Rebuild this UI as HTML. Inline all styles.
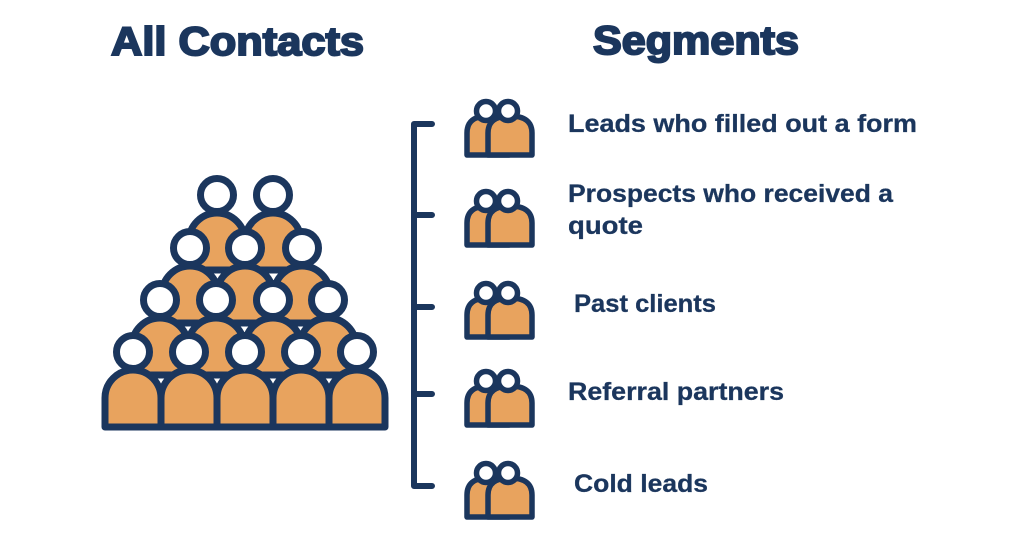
<!DOCTYPE html>
<html><head><meta charset="utf-8"><style>
html,body{margin:0;padding:0;background:#fff;}
svg{display:block;}
text{font-family:"Liberation Sans",sans-serif;fill:#1b365d;font-weight:bold;}
</style></head><body>
<svg width="1024" height="535" viewBox="0 0 1024 535" xmlns="http://www.w3.org/2000/svg">
<defs>
<g id="p">
<path d="M-28,75 L-28,46 A28,28 0 0 1 28,46 L28,75 Z" fill="#e8a35e" stroke="#1b365d" stroke-width="7" stroke-linejoin="round"/>
<circle cx="0" cy="0" r="16.5" fill="#fff" stroke="#1b365d" stroke-width="7"/>
</g>
<g id="s">
<path d="M-32,30 L-32,8 Q-32,-9 -11,-9 Q10,-9 10,8 L10,30 Z" fill="#e8a35e" stroke="#1b365d" stroke-width="5.5" stroke-linejoin="round"/>
<circle cx="-13" cy="-14" r="9.5" fill="#fff" stroke="#1b365d" stroke-width="5.5"/>
<path d="M-11,30 L-11,8 Q-11,-9 11,-9 Q33,-9 33,8 L33,30 Z" fill="#e8a35e" stroke="#1b365d" stroke-width="5.5" stroke-linejoin="round"/>
<circle cx="9" cy="-14" r="9.5" fill="#fff" stroke="#1b365d" stroke-width="5.5"/>
</g>
</defs>
<text x="111" y="55" font-size="40" stroke="#1b365d" stroke-width="2" textLength="253" lengthAdjust="spacingAndGlyphs">All Contacts</text>
<text x="593" y="54" font-size="40" stroke="#1b365d" stroke-width="2" textLength="206" lengthAdjust="spacingAndGlyphs">Segments</text>

<use href="#p" x="217" y="195"/><use href="#p" x="273" y="195"/>
<use href="#p" x="190" y="248"/><use href="#p" x="245" y="248"/><use href="#p" x="302" y="248"/>
<use href="#p" x="160" y="300"/><use href="#p" x="216" y="300"/><use href="#p" x="273" y="300"/><use href="#p" x="328" y="300"/>
<use href="#p" x="133" y="352"/><use href="#p" x="189" y="352"/><use href="#p" x="245" y="352"/><use href="#p" x="301" y="352"/><use href="#p" x="357" y="352"/>

<path d="M432,124 L414,124 L414,486 L432,486 M414,215 L432,215 M414,307 L432,307 M414,394 L432,394" fill="none" stroke="#1b365d" stroke-width="6" stroke-linecap="round" stroke-linejoin="round"/>

<use href="#s" x="499" y="125"/>
<use href="#s" x="499" y="215"/>
<use href="#s" x="499" y="307"/>
<use href="#s" x="499" y="395"/>
<use href="#s" x="499" y="487"/>

<g stroke="#1b365d" stroke-width="0.3">
<text x="568" y="132" font-size="25" textLength="349" lengthAdjust="spacingAndGlyphs">Leads who filled out a form</text>
<text x="568" y="202" font-size="25" textLength="325" lengthAdjust="spacingAndGlyphs">Prospects who received a</text>
<text x="568" y="234" font-size="25" textLength="75" lengthAdjust="spacingAndGlyphs">quote</text>
<text x="574" y="312" font-size="25" textLength="142" lengthAdjust="spacingAndGlyphs">Past clients</text>
<text x="568" y="400" font-size="25" textLength="216" lengthAdjust="spacingAndGlyphs">Referral partners</text>
<text x="574" y="492" font-size="25" textLength="134" lengthAdjust="spacingAndGlyphs">Cold leads</text>
</g>
</svg>
</body></html>
